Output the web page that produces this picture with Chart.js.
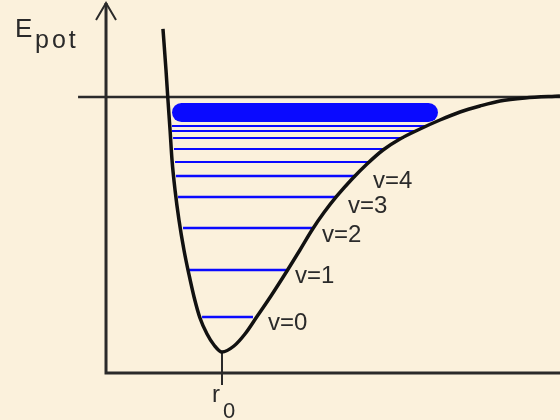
<!DOCTYPE html>
<html>
<head>
<meta charset="utf-8">
<script src="https://cdn.jsdelivr.net/npm/chart.js@4/dist/chart.umd.min.js"></script>
<style>
  html, body { margin: 0; padding: 0; background: #fbf1dc; }
  canvas { display: block; }
</style>
</head>
<body>
<canvas id="morseChart" width="560" height="420"></canvas>
<script>
// Morse-type potential: r in units of r0, energy in units where De = 10
const curveR = [0.491, 0.517, 0.534, 0.552, 0.569, 0.595, 0.629, 0.672, 0.716, 0.759, 0.810, 0.871, 0.931, 1.000,
                1.103, 1.198, 1.293, 1.422, 1.560, 1.672, 1.776, 1.879, 1.991, 2.121, 2.250, 2.388, 2.534,
                2.707, 2.879, 3.052, 3.224, 3.397, 3.612, 3.914];
const curveE = [2.667, 1.059, -0.118, -1.294, -2.471, -3.647, -4.824, -6.000, -6.980, -7.843, -8.667, -9.294, -9.725, -10.000,
                -9.765, -9.294, -8.667, -7.804, -6.824, -6.000, -5.216, -4.533, -3.882, -3.216, -2.627, -2.078, -1.647,
                -1.255, -0.902, -0.588, -0.353, -0.157, -0.039, 0.039];

// vibrational levels v = 0 .. 9 (energy, left and right turning points)
const levelE     = [-8.627, -6.784, -5.137, -3.922, -3.098, -2.549, -2.039, -1.608, -1.333, -1.137];
const levelLeft  = [0.828, 0.716, 0.664, 0.621, 0.603, 0.595, 0.586, 0.578, 0.569, 0.569];
const levelRight = [1.267, 1.560, 1.776, 1.991, 2.155, 2.276, 2.414, 2.569, 2.672, 2.750];
const levelLabels = ['v=0', 'v=1', 'v=2', 'v=3', 'v=4'];

// densely packed levels just below the dissociation limit
const continuumE = -0.608;
const continuumR = [0.651, 2.780];

// dissociation limit and axis extents
const dissociationE = 0;
const dissociationStart = -0.241;
const axisBottomE = -10.824;
const axisTopE = 3.686;
const r0 = 1;
const r0TickE = -11.294;

const xMin = -0.914, xMax = 3.914, yMin = -12.667, yMax = 3.804;

const BLUE = '#0a0aff';
const INK = '#2a2a2a';

const datasets = [
  {
    label: 'Epot',
    data: curveR.map((r, i) => ({ x: r, y: curveE[i] })),
    borderColor: '#111',
    borderWidth: 3.5,
    cubicInterpolationMode: 'monotone',
    pointRadius: 0
  },
  {
    label: 'De',
    data: [{ x: dissociationStart, y: dissociationE }, { x: xMax, y: dissociationE }],
    borderColor: INK,
    borderWidth: 2.5,
    pointRadius: 0
  },
  {
    label: 'continuum',
    data: continuumR.map(r => ({ x: r, y: continuumE })),
    borderColor: BLUE,
    borderWidth: 19,
    borderCapStyle: 'round',
    pointRadius: 0
  }
];

levelE.forEach((e, i) => {
  datasets.push({
    label: 'v=' + i,
    data: [{ x: levelLeft[i], y: e }, { x: levelRight[i], y: e }],
    borderColor: BLUE,
    borderWidth: i < 5 ? 2.5 : 2.2,
    pointRadius: 0
  });
});

const labelOffsets = [[15, 13], [8, 13], [10, 14], [11, 16], [17, 12]];

const diagramDecor = {
  id: 'diagramDecor',
  beforeDraw(chart) {
    const c = chart.ctx;
    c.save();
    c.fillStyle = '#fbf1dc';
    c.fillRect(0, 0, chart.width, chart.height);
    c.restore();
  },
  beforeDatasetsDraw(chart) {
    const c = chart.ctx;
    const x = chart.scales.x, y = chart.scales.y;
    const x0 = x.getPixelForValue(0);
    const yb = y.getPixelForValue(axisBottomE);
    const yt = y.getPixelForValue(axisTopE);
    c.save();
    c.strokeStyle = INK;
    c.lineWidth = 3;
    c.lineCap = 'butt';
    c.beginPath();
    c.moveTo(x0, yt);
    c.lineTo(x0, yb);
    c.lineTo(x.getPixelForValue(xMax), yb);
    c.stroke();
    // arrow head
    c.lineWidth = 2;
    c.beginPath();
    c.moveTo(x0 - 10, yt + 17);
    c.lineTo(x0, yt);
    c.lineTo(x0 + 10, yt + 17);
    c.stroke();
    // r0 tick
    const xr = x.getPixelForValue(r0);
    c.beginPath();
    c.moveTo(xr, y.getPixelForValue(-10));
    c.lineTo(xr, y.getPixelForValue(r0TickE));
    c.stroke();
    c.restore();
  },
  afterDatasetsDraw(chart) {
    const c = chart.ctx;
    const x = chart.scales.x, y = chart.scales.y;
    c.save();
    c.fillStyle = INK;
    c.textBaseline = 'alphabetic';
    c.font = '24px "Liberation Sans", Arial, sans-serif';
    levelLabels.forEach((t, i) => {
      const px = x.getPixelForValue(levelRight[i]) + labelOffsets[i][0];
      const py = y.getPixelForValue(levelE[i]) + labelOffsets[i][1];
      c.fillText(t, px, py);
    });
    // axis titles
    c.font = '26px "Liberation Sans", Arial, sans-serif';
    c.fillText('E', 15, 37);
    c.font = '25px "Liberation Sans", Arial, sans-serif';
    if ('letterSpacing' in c) c.letterSpacing = '3px';
    c.fillText('pot', 35, 48);
    if ('letterSpacing' in c) c.letterSpacing = '0px';
    const xr = x.getPixelForValue(r0);
    c.font = '24px "Liberation Sans", Arial, sans-serif';
    c.fillText('r', xr - 10, 402);
    c.font = '22px "Liberation Sans", Arial, sans-serif';
    c.fillText('0', xr + 1, 418);
    c.restore();
  }
};

new Chart(document.getElementById('morseChart'), {
  type: 'line',
  data: { datasets },
  plugins: [diagramDecor],
  options: {
    responsive: false,
    animation: false,
    devicePixelRatio: 1,
    layout: { padding: 0 },
    scales: {
      x: { type: 'linear', min: xMin, max: xMax, display: false },
      y: { type: 'linear', min: yMin, max: yMax, display: false }
    },
    plugins: {
      legend: { display: false },
      tooltip: { enabled: false }
    }
  }
});
</script>
</body>
</html>
